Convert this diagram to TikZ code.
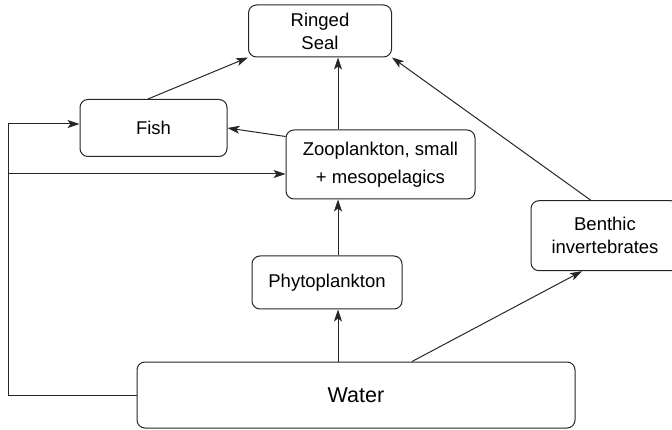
\documentclass[tikz,border=0pt]{standalone}
\usepackage{fontspec}
\setmainfont{Liberation Sans}
\usetikzlibrary{positioning}
\usetikzlibrary{arrows.meta}
\colorlet{lineColor}{black!85}
\tikzset{%
  % Specifications for style of nodes:
    >={Stealth[width=8pt,length=12pt,inset=3pt]},
    baseBox/.style = {rectangle,draw=lineColor,line width=1pt,rounded corners=8pt,align=center,inner sep=0pt,font=\fontsize{18.5}{23}\selectfont},
    wideBox/.style = {baseBox,font=\fontsize{18.5}{28}\selectfont},
    waterBox/.style = {baseBox,font=\fontsize{21.5}{26}\selectfont},
    link/.style = {->,draw=lineColor,line width=1pt},
}

\begin{document}
\begin{tikzpicture}[x=1pt,y=-1pt]
	\useasboundingbox (0,0) rectangle (672,430);

	\node [baseBox, minimum width=143pt, minimum height=52pt] (seal) at (320,31) {Ringed\\Seal};
	\node [baseBox, minimum width=147pt, minimum height=57pt] (fish) at (153.5,128) {Fish};
	\node [wideBox, minimum width=189pt, minimum height=69pt] (zoo) at (380.5,164.5) {Zooplankton, small\\+ mesopelagics};
	\node [baseBox, minimum width=150pt, minimum height=53pt] (phyto) at (327,282.5) {Phytoplankton};
	\node [baseBox, minimum width=148pt, minimum height=70pt] (benthic) at (605,235.7) {Benthic\\invertebrates};
	\node [waterBox, minimum width=438pt, minimum height=66pt] (water) at (356,395) {Water};

	\coordinate (midLine) at (338,0);
	\coordinate (leftLine) at (8,0);
	\coordinate (fishIn) at ([yshift=4pt]fish.west);
	\coordinate (zooIn) at ([yshift=-9.5pt]zoo.west);

	\draw[link] ([xshift=-5.5pt]fish.north) -- (seal.south west);
	\draw[link] (zoo.north -| midLine) -- (seal.south -| midLine);
	\draw[link] ([xshift=-14.3pt]benthic.north) -- (seal.south east);
	\draw[link] ([yshift=-7pt]zoo.north west) -- (fish.east);
	\draw[link] (phyto.north -| midLine) -- (zoo.south -| midLine);
	\draw[link] (water.north -| midLine) -- (phyto.south -| midLine);
	\draw[link] ([xshift=56pt]water.north) -- ([xshift=-23pt]benthic.south);

	\draw[link] (water.west) -- (water.west -| leftLine) |- (fishIn);
	\draw[link] (zooIn -| leftLine) -- (zooIn);

\end{tikzpicture}
\end{document}
